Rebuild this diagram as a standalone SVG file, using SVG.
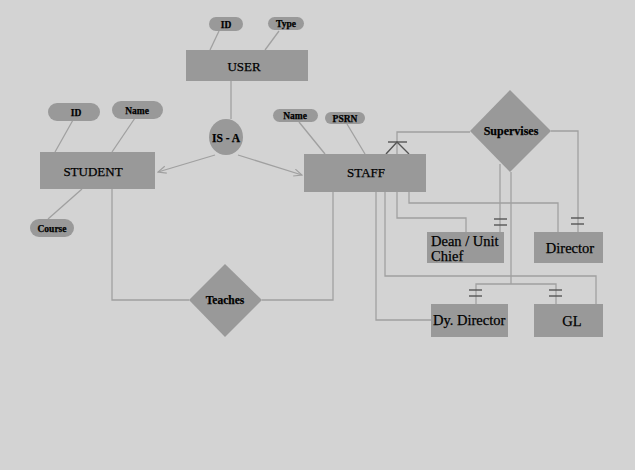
<svg xmlns="http://www.w3.org/2000/svg" width="635" height="470" viewBox="0 0 635 470">
<style>
.ent{fill:#999;stroke:none}
.attr{fill:#999;stroke:none}
.ln{fill:none;stroke:#a0a0a0;stroke-width:1.3}
.mk{fill:none;stroke:#555;stroke-width:1.4}
.t{font-family:"Liberation Serif",serif;fill:#000;stroke:#000;stroke-width:0.25}
.big{font-size:13px}
.lab{font-size:14.5px}
.rel{font-size:12px;font-weight:bold}
.sm{font-size:9.5px;font-weight:bold}
</style>
<defs>
<marker id="arr" viewBox="0 0 10 10" refX="9" refY="5" markerWidth="9" markerHeight="9" markerUnits="userSpaceOnUse" orient="auto">
<path d="M0,1 L9,5 L0,9" fill="none" stroke="#a0a0a0" stroke-width="1.3"/>
</marker>
</defs>
<rect width="635" height="470" fill="#d3d3d3"/>
<g id="connectors">
<line class="ln" x1="219" y1="31" x2="210" y2="50"/>
<line class="ln" x1="279" y1="31" x2="265" y2="50"/>
<line class="ln" x1="231" y1="81" x2="231" y2="119"/>
<line class="ln" x1="215" y1="155" x2="158" y2="172" marker-end="url(#arr)"/>
<line class="ln" x1="238" y1="155" x2="302" y2="175" marker-end="url(#arr)"/>
<line class="ln" x1="73" y1="120" x2="55" y2="152"/>
<line class="ln" x1="135" y1="118" x2="112" y2="152"/>
<line class="ln" x1="48" y1="219" x2="82" y2="189"/>
<line class="ln" x1="299" y1="122" x2="325" y2="154"/>
<line class="ln" x1="347" y1="124" x2="365" y2="154"/>
<polyline class="ln" points="112,189 112,300 189,300"/>
<polyline class="ln" points="262,300 333,300 333,192"/>
<polyline class="ln" points="397,154 397,132 470,132"/>
<polyline class="ln" points="551,131 578,131 578,232"/>
<line class="ln" x1="500" y1="164" x2="500" y2="232"/>
<polyline class="ln" points="511,172 511,284"/>
<polyline class="ln" points="476,304 476,284 556,284 556,304"/>
<polyline class="ln" points="409,192 409,203 558,203 558,232"/>
<polyline class="ln" points="397,192 397,218 466,218 466,232"/>
<polyline class="ln" points="385,192 385,276 596,276 596,304"/>
<polyline class="ln" points="376,192 376,320 431,320"/>
<line class="mk" x1="388" y1="142" x2="407" y2="142"/>
<polyline class="mk" points="386,154 397,142 409,154"/>
<line class="mk" x1="494" y1="219" x2="507" y2="219"/>
<line class="mk" x1="494" y1="225" x2="507" y2="225"/>
<line class="mk" x1="571" y1="218" x2="584" y2="218"/>
<line class="mk" x1="571" y1="224" x2="584" y2="224"/>
<line class="mk" x1="469" y1="290" x2="482" y2="290"/>
<line class="mk" x1="469" y1="296" x2="482" y2="296"/>
<line class="mk" x1="549" y1="290" x2="562" y2="290"/>
<line class="mk" x1="549" y1="296" x2="562" y2="296"/>
</g>
<g id="user">
<rect class="ent" x="186" y="50" width="122" height="31"/>
<text class="t big" x="244" y="71" text-anchor="middle">USER</text>
</g>
<g id="user-id">
<rect class="attr" x="209" y="17" width="34" height="14" rx="7"/>
<text class="t sm" x="226" y="27.5" text-anchor="middle">ID</text>
</g>
<g id="user-type">
<rect class="attr" x="268" y="17" width="36" height="13" rx="6.5"/>
<text class="t sm" x="286" y="27" text-anchor="middle">Type</text>
</g>
<g id="isa">
<ellipse class="ent" cx="226" cy="137" rx="17" ry="18"/>
<text class="t rel" x="226" y="141.5" text-anchor="middle" style="font-size:11.5px">IS - A</text>
</g>
<g id="student">
<rect class="ent" x="40" y="152" width="115" height="37"/>
<text class="t big" x="93" y="176" text-anchor="middle">STUDENT</text>
</g>
<g id="student-id">
<rect class="attr" x="48" y="103" width="52" height="18" rx="9"/>
<text class="t sm" x="76" y="115.5" text-anchor="middle">ID</text>
</g>
<g id="student-name">
<rect class="attr" x="112" y="101" width="51" height="18" rx="9"/>
<text class="t sm" x="137" y="113.5" text-anchor="middle">Name</text>
</g>
<g id="student-course">
<rect class="attr" x="30" y="219" width="44" height="18" rx="9"/>
<text class="t sm" x="52" y="231.5" text-anchor="middle">Course</text>
</g>
<g id="staff">
<rect class="ent" x="304" y="154" width="122" height="38"/>
<text class="t big" x="366" y="177" text-anchor="middle">STAFF</text>
</g>
<g id="staff-name">
<rect class="attr" x="273" y="109" width="45" height="13" rx="6.5"/>
<text class="t sm" x="295" y="119" text-anchor="middle">Name</text>
</g>
<g id="staff-psrn">
<rect class="attr" x="325" y="112" width="40" height="12" rx="6"/>
<text class="t sm" x="345" y="121.5" text-anchor="middle">PSRN</text>
</g>
<g id="teaches">
<polygon class="ent" points="225,264 262,300 225,337 189,300"/>
<text class="t rel" x="225" y="304" text-anchor="middle" style="font-size:11.5px">Teaches</text>
</g>
<g id="supervises">
<polygon class="ent" points="510,90 551,131 510,172 470,131"/>
<text class="t rel" x="511" y="135" text-anchor="middle">Supervises</text>
</g>
<g id="dean">
<rect class="ent" x="427" y="232" width="77" height="31"/>
<text class="t lab" x="431" y="246">Dean / Unit</text>
<text class="t lab" x="431" y="261">Chief</text>
</g>
<g id="director">
<rect class="ent" x="534" y="232" width="69" height="31"/>
<text class="t lab" x="570" y="253" text-anchor="middle">Director</text>
</g>
<g id="dy-director">
<rect class="ent" x="431" y="304" width="77" height="33"/>
<text class="t lab" x="433" y="325">Dy. Director</text>
</g>
<g id="gl">
<rect class="ent" x="534" y="304" width="69" height="33"/>
<text class="t lab" x="572" y="326" text-anchor="middle">GL</text>
</g>
</svg>
